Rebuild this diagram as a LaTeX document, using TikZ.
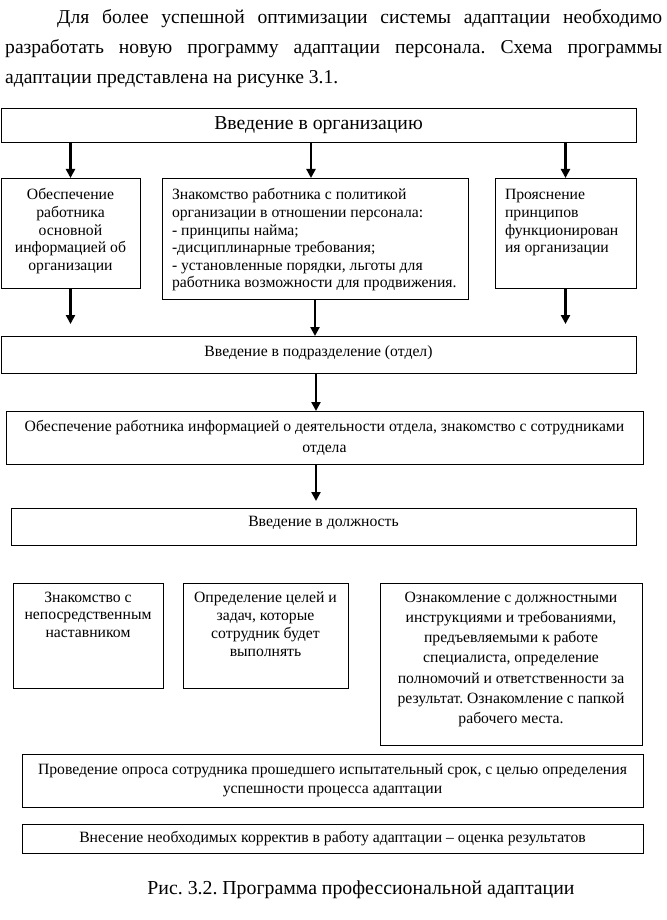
\documentclass[tikz,border=0pt]{standalone}
\usepackage{fontspec}
\setmainfont{Liberation Serif}
\usetikzlibrary{arrows.meta}
\newcommand\btxt[6]{\parbox[t][#1][t]{#2}{#3\fontsize{15.7}{#4}\selectfont\vspace*{#5}\strut #6}}
\newcommand\lft{\raggedright\leftskip=10pt\relax}
\tikzset{
  bx/.style={draw, line width=0.9pt, inner sep=0pt, outer sep=0pt, anchor=north west},
  arr/.style={line width=2.6pt, -{Triangle[width=9pt,length=9pt]}},
}
\begin{document}
\frenchspacing
\begin{tikzpicture}[x=1pt,y=-1pt]
\useasboundingbox (0,0) rectangle (666,920);
% paragraph
\node[inner sep=0pt, anchor=north west] (par) at (5,2) {\parbox[t]{657pt}{\fontsize{19.6}{30}\selectfont\tolerance=10000\hyphenpenalty=10000\strut\hspace*{52pt}Для более успешной оптимизации системы адаптации необходимо\linebreak разработать новую программу адаптации персонала. Схема программы\linebreak адаптации представлена на рисунке 3.1.}};
% boxes
\node[bx, minimum width=635pt, minimum height=34pt, anchor=center, font=\fontsize{19.7}{22}\selectfont] (b1) at (318.5,125) {Введение в организацию};
\node[bx] (b2a) at (1,178) {\btxt{110pt}{139pt}{\centering}{17.6}{9.5pt}{Обеспечение\\работника\\основной\\информацией об\\организации}};
\node[bx] (b2b) at (162,178) {\btxt{121pt}{306pt}{\lft}{17.6}{9.5pt}{Знакомство работника с политикой\\организации в отношении персонала:\\- принципы найма;\\-дисциплинарные требования;\\- установленные порядки, льготы для\\работника возможности для продвижения.}};
\node[bx] (b2c) at (495,178) {\btxt{110pt}{141pt}{\lft}{17.6}{9.5pt}{Прояснение\\принципов\\функционирован\\ия организации}};
\node[bx] (b3) at (1,336) {\btxt{37pt}{635pt}{\centering}{17.6}{8pt}{Введение в подразделение (отдел)}};
\node[bx] (b4) at (6,411) {\btxt{53pt}{637pt}{\centering}{21}{5.5pt}{Обеспечение работника информацией о деятельности отдела, знакомство с сотрудниками\\отдела}};
\node[bx] (b5) at (11,508) {\btxt{37pt}{625pt}{\centering}{17.6}{6pt}{Введение в должность}};
\node[bx] (b6a) at (13,583) {\btxt{105pt}{150pt}{\centering}{17.6}{7pt}{Знакомство с\\непосредственным\\наставником}};
\node[bx] (b6b) at (183,583) {\btxt{105pt}{165pt}{\centering}{18}{7pt}{Определение целей и\\задач, которые\\сотрудник будет\\выполнять}};
\node[bx] (b6c) at (380,583) {\btxt{162pt}{262pt}{\centering}{20.2}{5.2pt}{Ознакомление с должностными\\инструкциями и требованиями,\\предъевляемыми к работе\\специалиста, определение\\полномочий и ответственности за\\результат. Ознакомление с папкой\\рабочего места.}};
\node[bx] (b7) at (22,754) {\btxt{53pt}{621pt}{\centering}{19}{7pt}{Проведение опроса сотрудника прошедшего испытательный срок, с целью определения\\успешности процесса адаптации}};
\node[bx] (b8) at (22,824) {\btxt{29pt}{621pt}{\centering}{17.6}{6pt}{Внесение необходимых корректив в работу адаптации – оценка результатов}};
% caption
\node[inner sep=0pt, font=\fontsize{19.8}{22}\selectfont] (cap) at (361,890) {Рис. 3.2. Программа профессиональной адаптации};
% arrows
\coordinate (ax) at (316,0);
\draw[arr] (b2a.north |- b1.south) -- (b2a.north);
\draw[arr] ([xshift=-4pt]b2b.north |- b1.south) -- ([xshift=-4pt]b2b.north);
\draw[arr] (b2c.north |- b1.south) -- (b2c.north);
\draw[arr, shorten >=12pt] (b2a.south) -- (b2a.south |- b3.north);
\draw[arr] (b2b.south) -- (b2b.south |- b3.north);
\draw[arr, shorten >=12pt] (b2c.south) -- (b2c.south |- b3.north);
\draw[arr] (ax |- b3.south) -- (ax |- b4.north);
\draw[arr, shorten >=7pt] (ax |- b4.south) -- (ax |- b5.north);
\end{tikzpicture}
\end{document}
